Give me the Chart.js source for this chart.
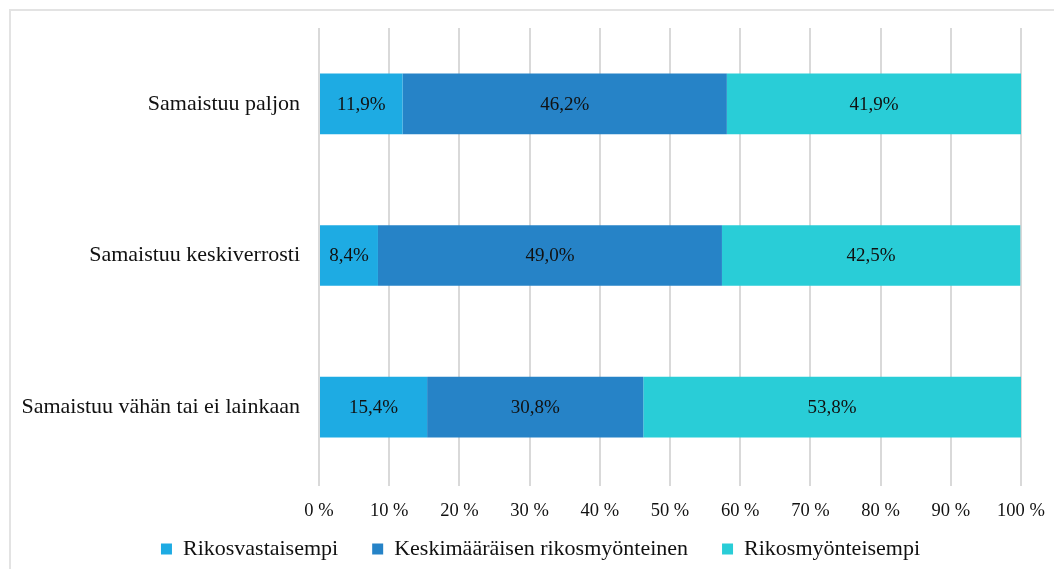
<!DOCTYPE html>
<html>
<head>
<meta charset="utf-8">
<script src="https://cdn.jsdelivr.net/npm/chart.js@4.4.0/dist/chart.umd.min.js"></script>
<style>
  html, body { margin: 0; padding: 0; background: #fff; }
  #wrap { position: absolute; left: 0; top: 0; width: 1054px; height: 569px; }
  #frame { position: absolute; left: 9px; top: 9px; width: 1100px; height: 620px; border: 2px solid #e3e3e3; box-sizing: border-box; }
</style>
</head>
<body>
<div id="frame"></div>
<div id="wrap"><canvas id="chart" width="1054" height="569"></canvas></div>
<script>
// categories and series (percent)
const categories = ['Samaistuu paljon', 'Samaistuu keskiverrosti', 'Samaistuu vähän tai ei lainkaan'];
const seriesNames = ['Rikosvastaisempi', 'Keskimääräisen rikosmyönteinen', 'Rikosmyönteisempi'];
const rikosvastaisempi = [11.9, 8.4, 15.4];
const keskimaarainen = [46.2, 49.0, 30.8];
const rikosmyonteisempi = [41.9, 42.5, 53.8];
const xTicks = [0, 10, 20, 30, 40, 50, 60, 70, 80, 90, 100];

const serif = "'Liberation Serif', 'DejaVu Serif', serif";

// labels in the middle of each bar piece
const barLabels = {
  id: 'barLabels',
  afterDatasetsDraw(chart) {
    const c = chart.ctx;
    c.save();
    c.font = '19px ' + serif;
    c.fillStyle = '#111';
    c.textAlign = 'center';
    c.textBaseline = 'middle';
    chart.data.datasets.forEach((ds, i) => {
      chart.getDatasetMeta(i).data.forEach((bar, j) => {
        const x = (bar.x + bar.base) / 2;
        c.fillText(ds.data[j].toFixed(1).replace('.', ',') + '%', x, bar.y + 1);
      });
    });
    c.restore();
  }
};

// legend: wide gaps between items but little height, then place it by hand
const legendFix = {
  id: 'legendFix',
  afterInit(chart) {
    const lg = chart.legend;
    const fit = lg.fit.bind(lg);
    lg.fit = function () { fit(); this.height = 30; };
  },
  afterLayout(chart) {
    const lg = chart.legend;
    lg.top = 504;
    lg.bottom = 569;
    lg.height = 65;
    lg.left += 30;
    lg.right += 30;
  }
};

new Chart(document.getElementById('chart'), {
  type: 'bar',
  data: {
    labels: categories,
    datasets: [
      { label: seriesNames[0], data: rikosvastaisempi, backgroundColor: '#1eabe3' },
      { label: seriesNames[1], data: keskimaarainen, backgroundColor: '#2683c7' },
      { label: seriesNames[2], data: rikosmyonteisempi, backgroundColor: '#29cdd7' }
    ]
  },
  options: {
    indexAxis: 'y',
    responsive: false,
    animation: false,
    barPercentage: 0.4,
    categoryPercentage: 1,
    layout: { padding: { top: 28, right: 33, left: 0, bottom: 0 } },
    scales: {
      x: {
        stacked: true,
        min: 0,
        max: 100,
        afterBuildTicks: s => { s.ticks = xTicks.map(v => ({ value: v })); },
        afterFit: s => { s.height = 56; s.paddingLeft = 0; s.paddingRight = 0; },
        grid: { color: '#d9d9d9', lineWidth: 2, tickLength: 3, drawTicks: true },
        border: { display: false },
        ticks: {
          color: '#111',
          font: { family: serif, size: 18.5 },
          padding: 14,
          maxRotation: 0,
          callback: v => v + ' %'
        }
      },
      y: {
        stacked: true,
        grid: { display: false, drawTicks: false },
        border: { display: false },
        afterFit: s => { s.width = 319; s.paddingTop = 0; s.paddingBottom = 0; },
        ticks: {
          color: '#111',
          font: { family: serif, size: 22 },
          padding: 19
        }
      }
    },
    plugins: {
      legend: {
        position: 'bottom',
        labels: {
          color: '#111',
          font: { family: serif, size: 22 },
          boxWidth: 11,
          boxHeight: 11,
          padding: 34
        }
      },
      tooltip: { enabled: false }
    }
  },
  plugins: [barLabels, legendFix]
});
</script>
</body>
</html>
